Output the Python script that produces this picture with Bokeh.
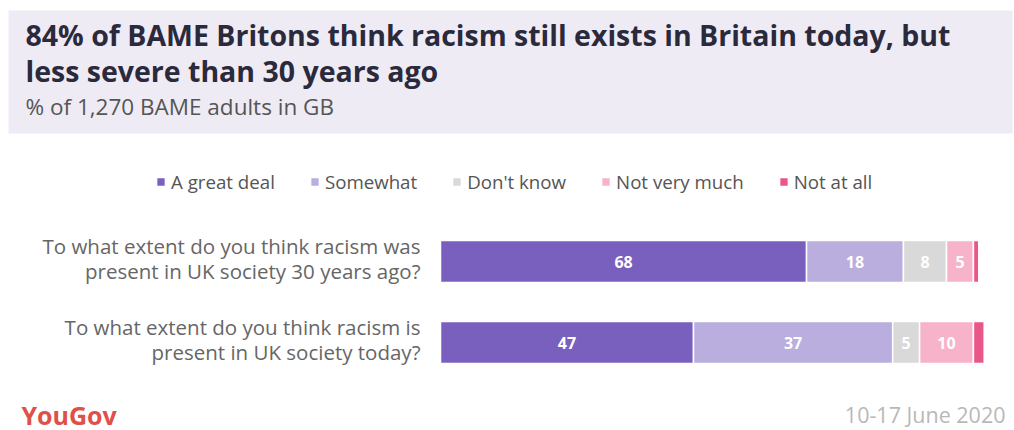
from bokeh.plotting import figure
from bokeh.models import (Label, BoxAnnotation, Legend, LegendItem, Range1d, ColumnDataSource)
from bokeh.embed import file_html
from bokeh.resources import INLINE
from bokeh.core.properties import value

# ---------------- data ----------------
questions = [
    "To what extent do you think racism was\npresent in UK society 30 years ago?",
    "To what extent do you think racism is\npresent in UK society today?",
]
series = ["A great deal", "Somewhat", "Don't know", "Not very much", "Not at all"]
great_deal = [68, 47]
somewhat = [18, 37]
dont_know = [8, 5]
not_very_much = [5, 10]
not_at_all = [1, 2]
colors = ["#7A60BE", "#B9AEDD", "#D9D9D9", "#F6B3C9", "#E9578A"]

title_lines = ["84% of BAME Britons think racism still exists in Britain today, but",
               "less severe than 30 years ago"]
subtitle = "% of 1,270 BAME adults in GB"
date_note = "10-17 June 2020"
brand = "YouGov"

# ---------------- layout ----------------
W, H = 1014, 430
BAR_LEFT_PX, BAR_RIGHT_PX = 440, 981      # pixel extent of the 0..100.5 scale
X_MAX = 100.5
ROW0_PX, ROW_STEP_PX = 261, 81            # centre of first row, distance between rows

px_per_unit = (BAR_RIGHT_PX - BAR_LEFT_PX) / X_MAX
x_range = Range1d(-BAR_LEFT_PX / px_per_unit, X_MAX + (W - BAR_RIGHT_PX) / px_per_unit)
y_range = Range1d((H - ROW0_PX) / ROW_STEP_PX, -ROW0_PX / ROW_STEP_PX)   # rows go downward

keys = ["great_deal", "somewhat", "dont_know", "not_very_much", "not_at_all"]
values_by_key = dict(zip(keys, [great_deal, somewhat, dont_know, not_very_much, not_at_all]))
row_pos = list(range(len(questions)))
src = ColumnDataSource(dict(y=row_pos, **values_by_key))

p = figure(width=W, height=H, x_range=x_range, y_range=y_range,
           x_axis_type=None, y_axis_type=None,
           output_backend="svg", toolbar_location=None,
           min_border=0)
p.outline_line_color = None
p.background_fill_color = "white"
p.border_fill_color = "white"
p.grid.visible = False

renderers = p.hbar_stack(keys, y="y", height=42 / ROW_STEP_PX, color=colors, source=src,
                         line_color="white", line_width=1.5)

# value labels in segments
lx, ly, lt = [], [], []
for i in row_pos:
    left = 0
    for k in keys:
        v = values_by_key[k][i]
        if v >= 3:
            lx.append(left + v / 2)
            ly.append(i)
            lt.append(str(v))
        left += v
p.text(x=lx, y=ly, text=lt, text_align="center", text_baseline="middle",
       text_color="white", text_font=value("Open Sans"), text_font_style="bold",
       text_font_size="16px")

# question labels
for i, q in zip(row_pos, questions):
    p.add_layout(Label(x=420, y=i, x_units="screen", y_units="data", text=q,
                       y_offset=3,
                       text_align="right", text_baseline="middle",
                       text_font="Open Sans", text_font_size="20.5px",
                       text_color="#666666", text_line_height=0.9))

# legend
legend = Legend(items=[LegendItem(label=s, renderers=[r]) for s, r in zip(series, renderers)],
                orientation="horizontal", location=(155, H - 194),
                border_line_color=None, background_fill_alpha=0,
                label_text_font="Open Sans", label_text_font_size="18.7px",
                label_text_color="#555555", glyph_width=11, glyph_height=11,
                spacing=34, padding=0, margin=0, label_standoff=5, label_height=22)
p.add_layout(legend, "center")

# header box
p.add_layout(BoxAnnotation(left=8, right=1012, top=H - 10, bottom=H - 133,
                           left_units="screen", right_units="screen",
                           top_units="screen", bottom_units="screen",
                           fill_color="#EFEBF5", fill_alpha=1, line_color=None,
                           level="underlay"))

DY = 12  # empirical shift between requested and drawn baseline


def lab(x, y, text, **kw):
    p.add_layout(Label(x=x, y=H - (y - DY), x_units="screen", y_units="screen", text=text,
                       text_baseline="alphabetic", **kw))


lab(25, 46, title_lines[0], text_font="Open Sans", text_font_style="bold",
    text_font_size="28.5px", text_color="#2A2A3C")
lab(25, 82, title_lines[1], text_font="Open Sans", text_font_style="bold",
    text_font_size="28.5px", text_color="#2A2A3C")
lab(25, 118, subtitle, text_font="Open Sans", text_font_size="22.5px", text_color="#555555")
lab(21, 426, brand, text_font="Open Sans", text_font_style="bold", text_font_size="25px",
    text_color="#E0504A")
lab(1005, 426, date_note, text_font="Open Sans", text_font_size="21.5px",
    text_color="#B8B8B8", text_align="right")

open("out.html", "w").write(file_html(p, INLINE))
